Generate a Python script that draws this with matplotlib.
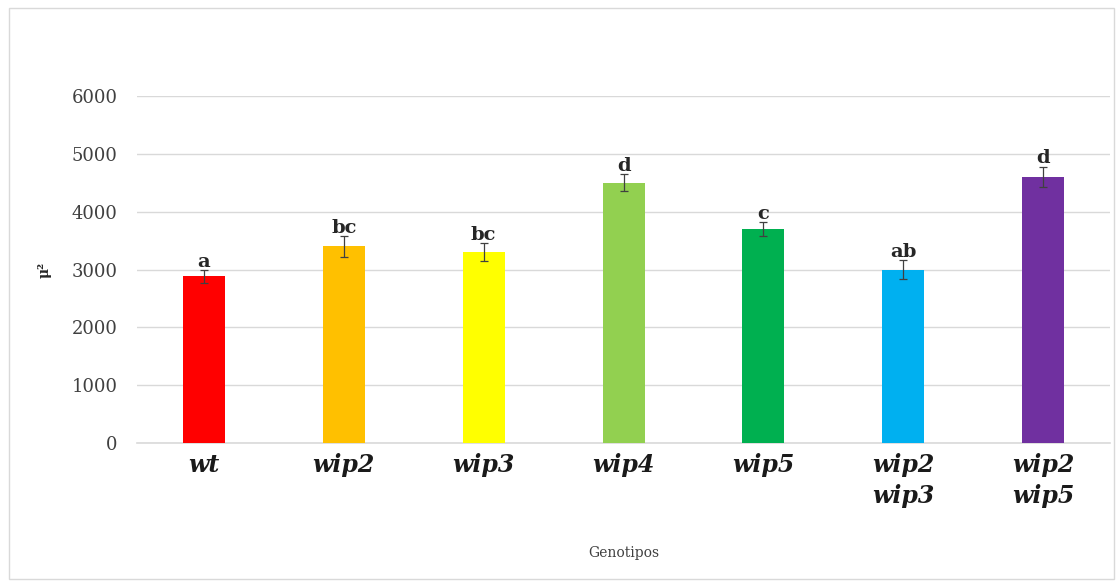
import numpy as np
import matplotlib.pyplot as plt
from matplotlib.patches import Rectangle

# genotypes, mean area and standard error
genotipos = ["wt", "wip2", "wip3", "wip4", "wip5", "wip2\nwip3", "wip2\nwip5"]
medias = [2880, 3400, 3300, 4500, 3700, 3000, 4600]
errores = [110, 180, 150, 150, 120, 160, 180]
letras = ["a", "bc", "bc", "d", "c", "ab", "d"]
colores = ["#FF0000", "#FFC000", "#FFFF00", "#92D050", "#00B050", "#00B0F0", "#7030A0"]

plt.rcParams['font.family'] = ['DejaVu Serif']

fig = plt.figure(figsize=(11.18, 5.84), dpi=100)
ax = fig.add_axes([0.1225, 0.2414, 0.8705, 0.5942])

x = np.arange(len(genotipos))
ax.bar(x, medias, width=0.3, color=colores, zorder=3)
ax.errorbar(x, medias, yerr=errores, fmt='none', ecolor='#404040',
            elinewidth=0.9, capsize=3, capthick=0.9, zorder=4)

# significance letters above each error bar
for xi, m, e, l in zip(x, medias, errores, letras):
    ax.text(xi, m + e - 10, l, ha='center', va='bottom', fontsize=14,
            fontweight='bold', color='#262626', zorder=5)

ax.set_xlim(-0.48, 6.48)
ax.set_ylim(0, 6000)
ax.set_yticks(range(0, 6001, 1000))
ax.yaxis.grid(True, color='#D9D9D9', linewidth=1, zorder=0)
ax.axhline(0, color='#D9D9D9', linewidth=1.2, clip_on=False, zorder=1)
ax.set_axisbelow(True)
for s in ax.spines.values():
    s.set_visible(False)
ax.tick_params(axis='both', length=0)
ax.tick_params(axis='y', labelsize=13, labelcolor='#404040', pad=14)

ax.set_xticks(x)
ax.set_xticklabels(genotipos, fontsize=17, fontweight='bold', fontstyle='italic',
                   va='top', linespacing=1.4)
ax.tick_params(axis='x', pad=7, labelcolor='#1a1a1a')

ax.set_xlabel("Genotipos", fontsize=10, color='#404040', labelpad=27)
fig.text(0.040, 0.537, "μ²", rotation=90, fontsize=10, fontweight='bold',
         ha='center', va='center', color='#262626')

# light frame around the chart
fig.patches.append(Rectangle((0.008, 0.008), 0.988, 0.978, transform=fig.transFigure,
                             fill=False, edgecolor='#D9D9D9', linewidth=1))

plt.savefig("out.png", dpi=100)
